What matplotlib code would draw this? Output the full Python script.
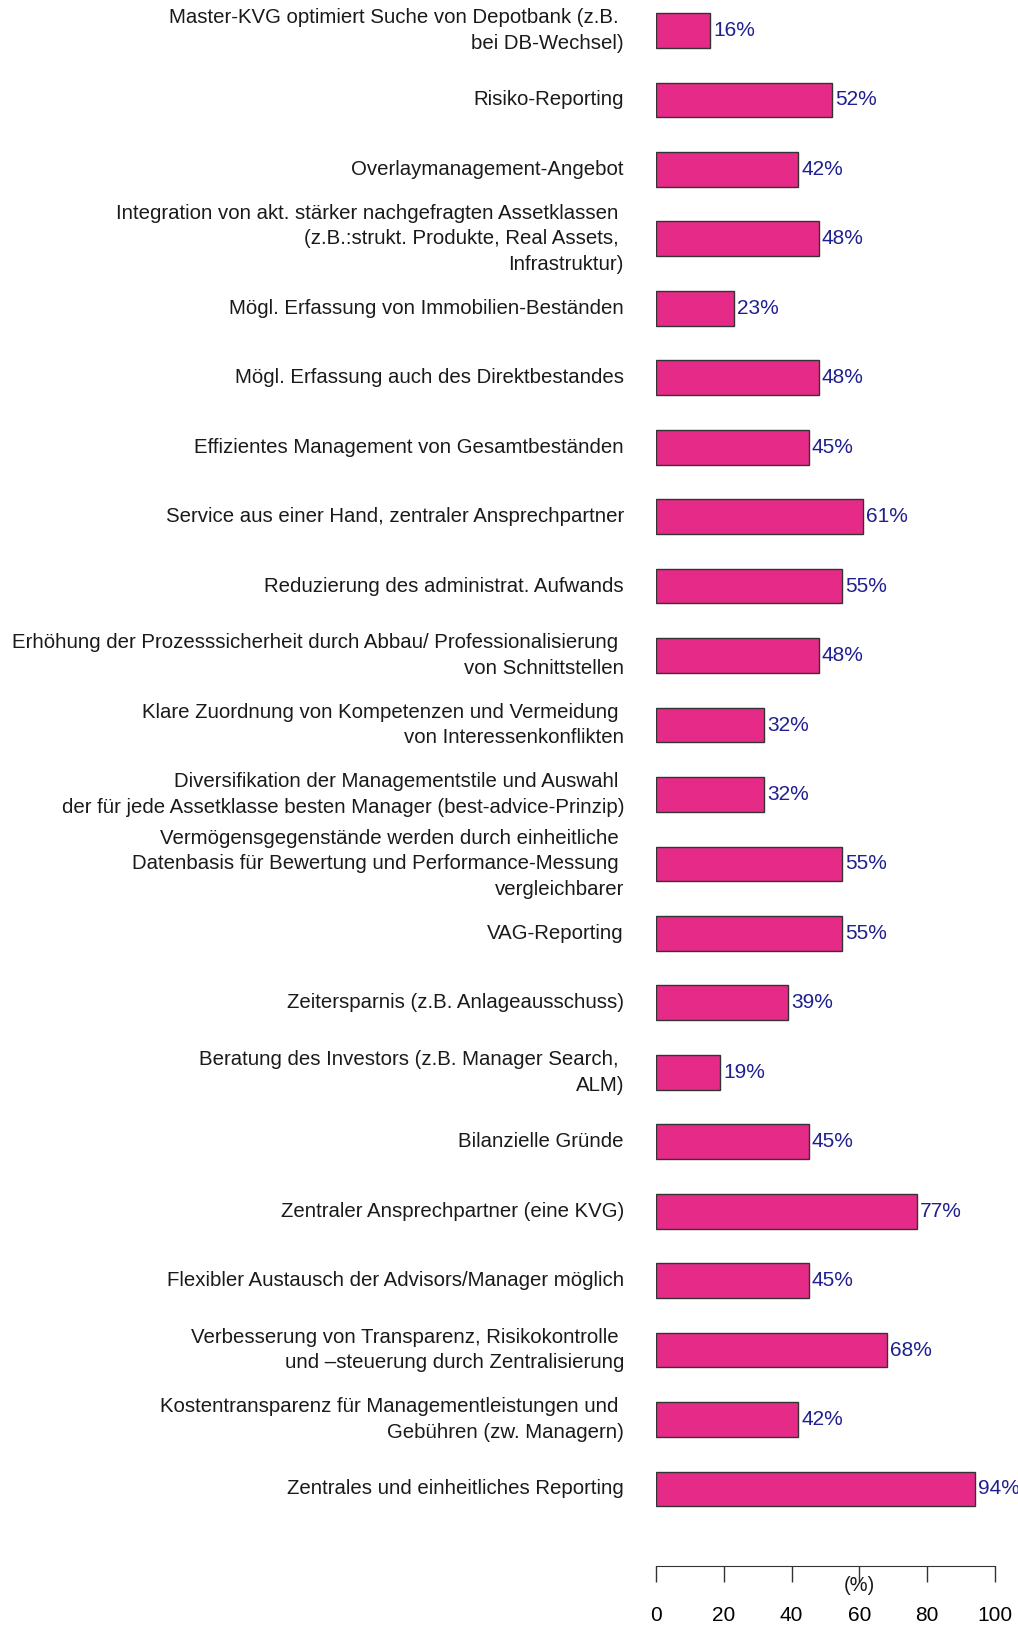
import matplotlib.pyplot as plt
from matplotlib.transforms import blended_transform_factory

plt.rcParams['font.family'] = ['Liberation Sans', 'DejaVu Sans']

# Kategorien (von oben nach unten) und Werte in %
kategorien = [
    "Master-KVG optimiert Suche von Depotbank (z.B. \nbei DB-Wechsel)",
    "Risiko-Reporting",
    "Overlaymanagement-Angebot",
    "Integration von akt. stärker nachgefragten Assetklassen \n(z.B.:strukt. Produkte, Real Assets, \nInfrastruktur)",
    "Mögl. Erfassung von Immobilien-Beständen",
    "Mögl. Erfassung auch des Direktbestandes",
    "Effizientes Management von Gesamtbeständen",
    "Service aus einer Hand, zentraler Ansprechpartner",
    "Reduzierung des administrat. Aufwands",
    "Erhöhung der Prozesssicherheit durch Abbau/ Professionalisierung \nvon Schnittstellen",
    "Klare Zuordnung von Kompetenzen und Vermeidung \nvon Interessenkonflikten",
    "Diversifikation der Managementstile und Auswahl \nder für jede Assetklasse besten Manager (best-advice-Prinzip)",
    "Vermögensgegenstände werden durch einheitliche \nDatenbasis für Bewertung und Performance-Messung \nvergleichbarer",
    "VAG-Reporting",
    "Zeitersparnis (z.B. Anlageausschuss)",
    "Beratung des Investors (z.B. Manager Search, \nALM)",
    "Bilanzielle Gründe",
    "Zentraler Ansprechpartner (eine KVG)",
    "Flexibler Austausch der Advisors/Manager möglich",
    "Verbesserung von Transparenz, Risikokontrolle \nund –steuerung durch Zentralisierung",
    "Kostentransparenz für Managementleistungen und \nGebühren (zw. Managern)",
    "Zentrales und einheitliches Reporting",
]
werte = [16, 52, 42, 48, 23, 48, 45, 61, 55, 48, 32, 32, 55, 55, 39, 19, 45, 77, 45, 68, 42, 94]
xticks = [0, 20, 40, 60, 80, 100]

W, H = 1018, 1625
fig = plt.figure(figsize=(W / 100, H / 100), dpi=100)
ax = fig.add_axes([656 / W, 1 - 1566 / H, 339 / W, 1566 / H])

pos = list(range(len(werte)))
ax.barh(pos, werte, height=0.5, color='#E62A87', edgecolor='#333333', linewidth=1)

for p, w in zip(pos, werte):
    ax.text(w + 0.9, p, f"{w}%", color='#1F1F8F', fontsize=15,
            ha='left', va='center', clip_on=False)

# Beschriftungen links
trans = blended_transform_factory(fig.transFigure, ax.transData)
for p, k in zip(pos, kategorien):
    ax.text(624 / W, p, k, transform=trans, ha='right', va='center',
            multialignment='right', fontsize=14.7, color='#1a1a1a',
            linespacing=1.45)

ax.set_xlim(0, 100)
ax.set_ylim(22.109, -0.439)
ax.set_yticks([])
ax.set_xticks(xticks)
ax.set_xticklabels([str(t) for t in xticks], fontsize=15)
ax.tick_params(axis='x', direction='out', length=11.5, width=1, pad=17,
               color='#333333')
for s in ['top', 'left', 'right']:
    ax.spines[s].set_visible(False)
ax.spines['bottom'].set_color('#333333')
ax.patch.set_visible(False)

ax.text(60, -0.0125, "(%)", transform=blended_transform_factory(ax.transData, ax.transAxes),
        ha='center', va='center', fontsize=14.5, color='#1a1a1a')

fig.savefig("out.png", dpi=100)
